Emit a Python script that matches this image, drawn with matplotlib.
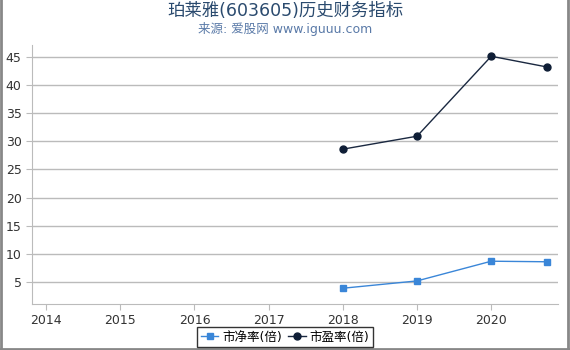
import matplotlib
matplotlib.use("Agg")
import matplotlib.pyplot as plt
from matplotlib.lines import Line2D

plt.rcParams['font.family'] = ['DejaVu Sans', 'Noto Sans CJK SC']

# data
years_pb = [2018, 2019, 2020, 2020.75]
pb = [3.9, 5.2, 8.7, 8.6]
years_pe = [2018, 2019, 2020, 2020.75]
pe = [28.6, 30.9, 45.1, 43.2]
xticks = [2014, 2015, 2016, 2017, 2018, 2019, 2020]
yticks = [5, 10, 15, 20, 25, 30, 35, 40, 45]

fig = plt.figure(figsize=(5.7, 3.5), dpi=100)
ax = fig.add_axes([32/570, 1-304/350, (558-32)/570, (304-45)/350])

ax.plot(years_pb, pb, color='#3a86d8', lw=1, marker='s', ms=5,
        mfc='#3a86d8', mec='#3a86d8', label='市净率(倍)')
ax.plot(years_pe, pe, color='#1a2840', lw=1, marker='o', ms=5,
        mfc='#0f1e36', mec='#0f1e36', label='市盈率(倍)')

ax.set_xlim(2013.81, 2020.9)
ax.set_ylim(1.1, 47.1)
ax.set_xticks(xticks)
ax.set_yticks(yticks)
ax.grid(axis='y', color='#bbbbbb', lw=1)
ax.set_axisbelow(True)
for s in ['top', 'right']:
    ax.spines[s].set_visible(False)
for s in ['left', 'bottom']:
    ax.spines[s].set_color('#bbbbbb')
ax.tick_params(colors='#333333', labelsize=9, length=4)
ax.tick_params(axis='both', color='#bbbbbb')
for lab in ax.get_xticklabels() + ax.get_yticklabels():
    lab.set_color('#333333')

fig.text(0.5, 1-11/350, '珀莱雅(603605)历史财务指标', ha='center', va='center',
         fontsize=12.5, color='#2a4a6e')
fig.text(0.5, 1-29/350, '来源: 爱股网 www.iguuu.com', ha='center', va='center',
         fontsize=9, color='#5a7aa8')

leg = fig.legend(loc='center', bbox_to_anchor=(285/570, 1-337/350), ncol=2,
                 fontsize=9, frameon=True, fancybox=False, handlelength=1.4,
                 handletextpad=0.3, columnspacing=0.5, borderpad=0.3)
leg.get_frame().set_edgecolor('black')
leg.get_frame().set_linewidth(1)

# figure border (left, right, bottom)
for xs, ys in [([0.002, 0.002], [0, 1]), ([0.997, 0.997], [0, 1]), ([0, 1], [0.004, 0.004])]:
    fig.add_artist(Line2D(xs, ys, transform=fig.transFigure, color='#888888', lw=2))

fig.savefig('out.png', dpi=100)
